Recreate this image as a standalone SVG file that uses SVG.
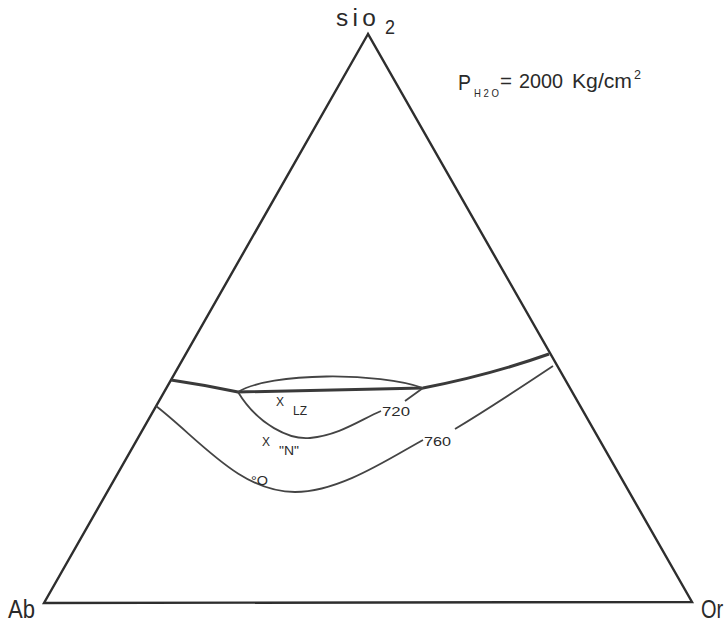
<svg xmlns="http://www.w3.org/2000/svg" width="727" height="623" viewBox="0 0 727 623">
<style>
  .edge { fill: none; stroke: #2e2e2e; stroke-width: 2.4; stroke-linejoin: miter; }
  .bold { fill: none; stroke: #3a3a3a; stroke-width: 3; }
  .thin { fill: none; stroke: #444; stroke-width: 1.8; }
  text { font-family: "Liberation Sans", Arial, sans-serif; fill: #2a2a2a; }
  .corner { font-size: 26px; }
  .lbl { font-size: 13px; }
</style>
<rect width="727" height="623" fill="#ffffff"/>
<g id="triangle">
  <path class="edge" d="M368,34 L44,603 L692,602 Z"/>
</g>
<g id="connectors">
  <path id="boundary" class="bold" d="M171,380 Q205,385 238,392 L423,388 Q490,375 549,354"/>
  <path id="lens" class="thin" d="M238,392 C270,372 380,372 423,388"/>
  <path id="iso720" class="thin" d="M238,392 C258,425 290,440 310,438 C340,435 360,420 381,411 M405,401 L423,388"/>
  <path id="iso760" class="thin" d="M156,406 C200,440 240,492 295,492 C340,492 390,458 423,440 M455,429 C490,408 520,388 553,366"/>
</g>
<g id="labels">
  <g id="node-Ab"><text class="corner" x="8" y="618" textLength="27" lengthAdjust="spacingAndGlyphs">Ab</text></g>
  <g id="node-Or"><text transform="translate(701,618) scale(0.8,1)" style="font-size:25px">Or</text></g>
  <g id="node-SiO2"><text x="336" y="26" style="font-size:23px;letter-spacing:4px" textLength="44" lengthAdjust="spacingAndGlyphs">sio</text><text x="385" y="34" style="font-size:20px" textLength="10" lengthAdjust="spacingAndGlyphs">2</text></g>
  <g id="pressure">
    <text x="458" y="90" style="font-size:22px" textLength="13" lengthAdjust="spacingAndGlyphs">P</text>
    <text x="474" y="97" style="font-size:11px" textLength="25" lengthAdjust="spacingAndGlyphs">H 2 O</text>
    <text x="500" y="88" style="font-size:20px" textLength="12" lengthAdjust="spacingAndGlyphs">=</text>
    <text x="519" y="88" style="font-size:20px" textLength="44" lengthAdjust="spacingAndGlyphs">2000</text>
    <text x="572" y="88" style="font-size:20px" textLength="60" lengthAdjust="spacingAndGlyphs">Kg/cm</text>
    <text x="634" y="79" style="font-size:12px" textLength="7" lengthAdjust="spacingAndGlyphs">2</text>
  </g>
  <g id="pt-LZ"><text class="lbl" x="276" y="406" textLength="8" lengthAdjust="spacingAndGlyphs">X</text><text class="lbl" x="293" y="415" textLength="14" lengthAdjust="spacingAndGlyphs">LZ</text></g>
  <g id="pt-N"><text class="lbl" x="262" y="446" textLength="8" lengthAdjust="spacingAndGlyphs">X</text><text class="lbl" x="279" y="455" textLength="20" lengthAdjust="spacingAndGlyphs">"N"</text></g>
  <g id="pt-O"><text class="lbl" x="251" y="485" textLength="17" lengthAdjust="spacingAndGlyphs">°O</text></g>
  <text class="lbl" x="382" y="416" textLength="28" lengthAdjust="spacingAndGlyphs">720</text>
  <text class="lbl" x="424" y="446" textLength="27" lengthAdjust="spacingAndGlyphs">760</text>
</g>
</svg>
